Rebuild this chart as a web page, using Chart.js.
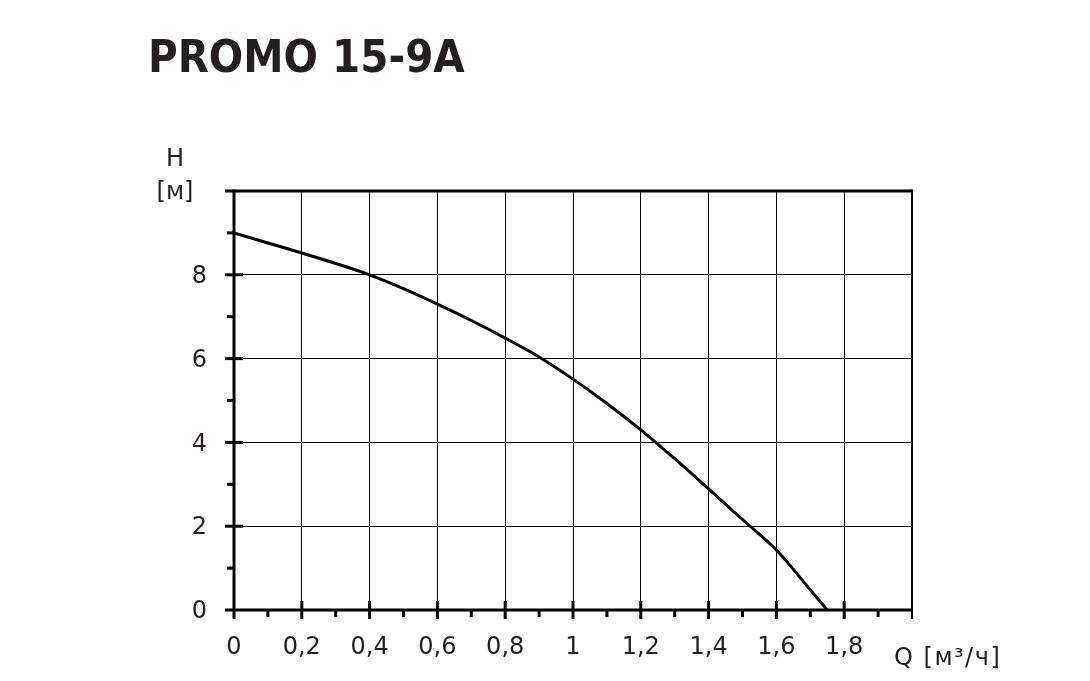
<!DOCTYPE html>
<html>
<head>
<meta charset="utf-8">
<script src="https://cdn.jsdelivr.net/npm/chart.js@4"></script>
<style>
  html, body { margin: 0; padding: 0; background: #fff; }
  #wrap { position: relative; width: 1090px; height: 681px; }
  canvas { display: block; }
</style>
</head>
<body>
<div id="wrap"><canvas id="c" width="1090" height="681"></canvas></div>
<script>
// ---- data ----
const chartTitle = 'PROMO 15-9A';
const yAxisTitle = ['H', '[м]'];
const xAxisTitle = 'Q [м³/ч]';
const flowQ = [0, 0.1, 0.2, 0.3, 0.4, 0.5, 0.6, 0.7, 0.8, 0.9, 1.0, 1.1, 1.2, 1.3, 1.4, 1.5, 1.6, 1.7, 1.75];
const headH = [9.0, 8.76, 8.52, 8.27, 8.0, 7.67, 7.30, 6.91, 6.49, 6.04, 5.51, 4.93, 4.30, 3.61, 2.89, 2.16, 1.43, 0.48, 0];
const xTickLabels = ['0', '0,2', '0,4', '0,6', '0,8', '1', '1,2', '1,4', '1,6', '1,8'];
const yTickValues = [0, 2, 4, 6, 8];
const yTickLabels = ['0', '2', '4', '6', '8'];

const TEXT = '#231f20';
const FONT = "'DejaVu Sans', Verdana, sans-serif";

const points = flowQ.map((q, i) => ({ x: q, y: headH[i] }));

const framePlugin = {
  id: 'frame',
  afterDraw(chart) {
    const ctx = chart.ctx;
    const xs = chart.scales.x, ys = chart.scales.y;
    const L = xs.getPixelForValue(0), R = xs.getPixelForValue(2);
    const B = ys.getPixelForValue(0), T = ys.getPixelForValue(10);
    ctx.save();
    ctx.strokeStyle = '#000';
    ctx.lineCap = 'butt';
    const line = (x1, y1, x2, y2, w) => {
      ctx.lineWidth = w;
      ctx.beginPath(); ctx.moveTo(x1, y1); ctx.lineTo(x2, y2); ctx.stroke();
    };
    // frame
    line(L - 9, T, R + 1, T, 3);
    line(L - 9, B, R + 1, B, 3);
    line(L, T - 1.5, L, B + 9, 3);
    line(R, T - 1.5, R, B + 9, 2);
    // y ticks
    for (let v = 1; v < 10; v++) {
      const y = ys.getPixelForValue(v);
      if (v % 2 === 0) line(L - 9, y, L + 9, y, 3);
      else line(L - 7, y, L, y, 3);
    }
    // x ticks
    for (let k = 1; k < 20; k++) {
      const x = xs.getPixelForValue(k / 10);
      if (k % 2 === 0) line(x, B - 9, x, B + 9, 3);
      else line(x, B, x, B + 7, 3);
    }
    // y tick labels
    ctx.fillStyle = TEXT;
    ctx.font = '24px ' + FONT;
    ctx.textAlign = 'right';
    ctx.textBaseline = 'middle';
    yTickValues.forEach((v, i) => {
      ctx.fillText(yTickLabels[i], L - 27, ys.getPixelForValue(v) + 2);
    });
    // texts
    ctx.textBaseline = 'alphabetic';
    ctx.font = "bold 45px 'DejaVu Sans Condensed', 'DejaVu Sans', sans-serif";
    ctx.textAlign = 'left';
    ctx.fillText(chartTitle, 148, 72);
    ctx.font = '24px ' + FONT;
    ctx.textAlign = 'center';
    ctx.fillText(yAxisTitle[0], 175, 166);
    ctx.fillText(yAxisTitle[1], 175, 199);
    ctx.textAlign = 'left';
    try { ctx.letterSpacing = '1.5px'; } catch (e) {}
    ctx.fillText(xAxisTitle, 894, 665);
    ctx.restore();
  }
};

new Chart(document.getElementById('c'), {
  type: 'scatter',
  data: {
    datasets: [{
      data: points,
      showLine: true,
      borderColor: '#000',
      borderWidth: 3,
      pointRadius: 0,
      cubicInterpolationMode: 'monotone',
      fill: false
    }]
  },
  options: {
    responsive: false,
    devicePixelRatio: 1,
    animation: false,
    layout: { padding: { top: 191, right: 178, bottom: 0, left: 0 } },
    plugins: { legend: { display: false }, tooltip: { enabled: false }, title: { display: false } },
    scales: {
      x: {
        type: 'linear', min: 0, max: 2,
        afterFit(s) { s.height = 71; },
        border: { display: false },
        grid: {
          drawTicks: false, lineWidth: 1,
          color: c => (c.index % 2 === 0 ? '#000' : 'rgba(0,0,0,0)')
        },
        ticks: {
          stepSize: 0.1, autoSkip: false, maxRotation: 0, padding: 23,
          color: TEXT, font: { family: FONT, size: 24 },
          callback: (v, i) => (i % 2 === 0 && i / 2 < xTickLabels.length ? xTickLabels[i / 2] : '')
        }
      },
      y: {
        type: 'linear', min: 0, max: 10,
        afterFit(s) { s.width = 234; },
        border: { display: false },
        grid: {
          drawTicks: false, lineWidth: 1,
          color: c => (c.index % 2 === 0 ? '#000' : 'rgba(0,0,0,0)')
        },
        ticks: {
          stepSize: 1, autoSkip: false, padding: 27,
          color: 'rgba(0,0,0,0)', font: { family: FONT, size: 24 },
          callback: (v, i) => (i % 2 === 0 && i / 2 < yTickLabels.length ? yTickLabels[i / 2] : '')
        }
      }
    }
  },
  plugins: [framePlugin]
});
</script>
</body>
</html>
